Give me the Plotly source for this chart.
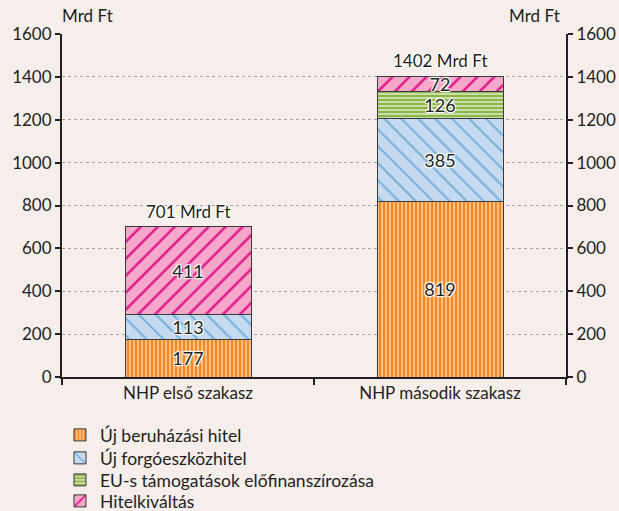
import plotly.graph_objects as go

categories = ["NHP első szakasz", "NHP második szakasz"]
series_names = ["Új beruházási hitel", "Új forgóeszközhitel",
                "EU-s támogatások előfinanszírozása", "Hitelkiváltás"]
beruhazasi = [177, 819]
forgoeszkoz = [113, 385]
eu_tamogatas = [0, 126]
hitelkivaltas = [411, 72]
totals = [701, 1402]
y_ticks = [0, 200, 400, 600, 800, 1000, 1200, 1400, 1600]
unit = "Mrd Ft"

FONT = "Lato"
TXT = "#231F20"
BG = "#F5EEEB"
halo = ("-1px -1px 1px #fff, 1px -1px 1px #fff, -1px 1px 1px #fff, 1px 1px 1px #fff, "
        "0 0 2px #fff")

styles = [
    dict(shape="|", bg="#FAC08A", fg="#F7861C", size=4, sol=0.5),
    dict(shape="\\", bg="#C5DAEF", fg="#6AABD9", size=12, sol=0.15),
    dict(shape="-", bg="#CCDDB0", fg="#8BB545", size=4, sol=0.5),
    dict(shape="/", bg="#F5A8C8", fg="#E0158C", size=12, sol=0.2),
]
legend_ids = ["legend", "legend2", "legend3", "legend4"]
legend_px = [435, 458, 480, 501]  # pixel centres of legend rows

fig = go.Figure()
for name, vals, st, lid in zip(series_names, [beruhazasi, forgoeszkoz, eu_tamogatas, hitelkivaltas],
                               styles, legend_ids):
    fig.add_trace(go.Bar(
        x=categories, y=vals, name=name, legend=lid,
        text=[str(v) if v else "" for v in vals],
        textposition="inside", insidetextanchor="middle", textangle=0,
        textfont=dict(family=FONT, size=18, color=TXT, shadow=halo),
        marker=dict(
            color=st["bg"],
            line=dict(color="#3A3A3A", width=1),
            pattern=dict(shape=st["shape"], bgcolor=st["bg"], fgcolor=st["fg"],
                         size=st["size"], solidity=st["sol"], fillmode="replace"),
        ),
        width=0.5,
        hoverinfo="skip",
    ))

# invisible trace to activate the right axis
fig.add_trace(go.Scatter(x=categories, y=[0, 0], yaxis="y2", mode="markers",
                         marker=dict(opacity=0), showlegend=False, hoverinfo="skip"))

for c, t in zip(categories, totals):
    fig.add_annotation(x=c, y=t, text=f"{t} {unit}", showarrow=False,
                       yanchor="bottom", yshift=3,
                       font=dict(family=FONT, size=17, color=TXT, shadow=halo))

fig.add_annotation(xref="paper", yref="paper", x=0.0, y=1.0, xanchor="left", yanchor="bottom",
                   text=unit, showarrow=False, yshift=6, xshift=-2,
                   font=dict(family=FONT, size=17, color=TXT))
fig.add_annotation(xref="paper", yref="paper", x=1.0, y=1.0, xanchor="right", yanchor="bottom",
                   text=unit, showarrow=False, yshift=6, xshift=-4,
                   font=dict(family=FONT, size=17, color=TXT))

axis_common = dict(
    range=[0, 1600], tickvals=y_ticks, ticks="outside", ticklen=5, tickwidth=2,
    tickcolor="#231F20", showline=True, linecolor="#231F20", linewidth=2,
    tickfont=dict(family=FONT, size=17, color=TXT), zeroline=False, automargin=False,
)

PLOT_TOP, PLOT_BOTTOM = 34, 377
legends = {}
for lid, py in zip(legend_ids, legend_px):
    legends[lid] = dict(x=-0.004, y=(PLOT_BOTTOM - py) / (PLOT_BOTTOM - PLOT_TOP),
                        xanchor="left", yanchor="middle",
                        bgcolor="rgba(0,0,0,0)", font=dict(family=FONT, size=17.5, color=TXT),
                        itemwidth=30)

fig.update_layout(
    width=619, height=511,
    margin=dict(l=62, r=53, t=34, b=134, autoexpand=False),
    paper_bgcolor=BG, plot_bgcolor=BG,
    barmode="stack", bargap=0.5,
    uniformtext=dict(minsize=18, mode="show"),
    font=dict(family=FONT, size=17, color=TXT),
    xaxis=dict(showline=True, linecolor="#231F20", linewidth=2, ticks="outside",
               tickson="boundaries", ticklen=6, tickwidth=2, tickcolor="#231F20",
               tickfont=dict(family=FONT, size=17, color=TXT), showgrid=False,
               automargin=False),
    yaxis=dict(**axis_common, showgrid=True, gridcolor="#A6A6A6", griddash="dot", gridwidth=1),
    yaxis2=dict(**axis_common, overlaying="y", side="right", showgrid=False),
    showlegend=True,
    **legends,
)

fig.write_html("out.html", config={"displayModeBar": False},
               post_script="document.body.style.margin='0';document.body.style.overflow='hidden';")
